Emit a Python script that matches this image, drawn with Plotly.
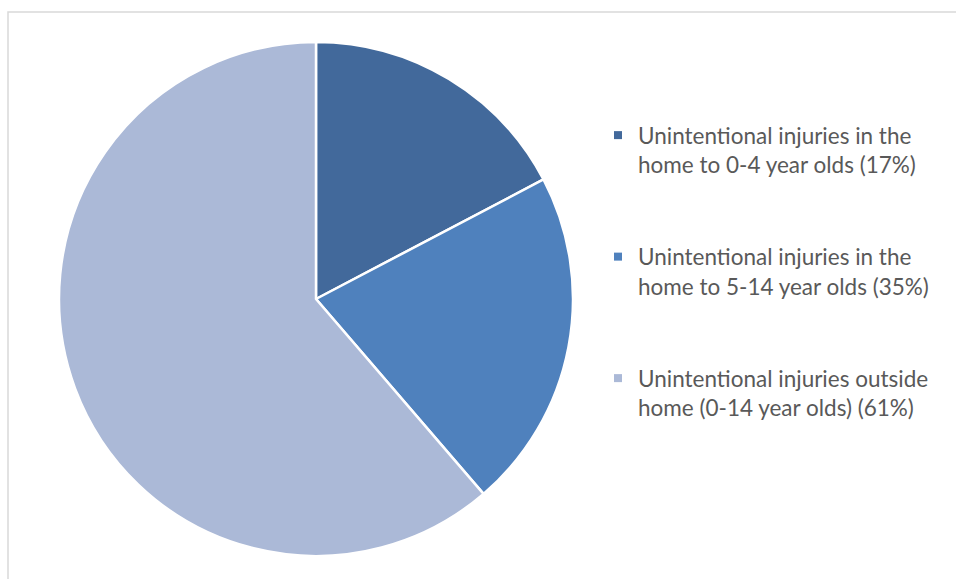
import plotly.graph_objects as go

labels = [
    "Unintentional injuries in the<br>home to 0-4 year olds (17%)",
    "Unintentional injuries in the<br>home to 5-14 year olds (35%)",
    "Unintentional injuries outside<br>home (0-14 year olds) (61%)",
]
values = [17.3, 21.4, 61.3]
colors = ["#42699B", "#4F81BD", "#ABB9D7"]

W, H = 956, 579
cx, cy, r = 316, 299, 257

fig = go.Figure()
fig.add_trace(go.Pie(
    labels=labels,
    values=values,
    sort=False,
    direction="clockwise",
    rotation=0,
    textinfo="none",
    showlegend=False,
    marker=dict(colors=colors, line=dict(color="white", width=2.5)),
    domain=dict(x=[(cx - r) / W, (cx + r) / W], y=[1 - (cy + r) / H, 1 - (cy - r) / H]),
    hovertemplate="%{label}<extra></extra>",
))

# legend entries (one per slice, same labels and colours)
for i, (lab, col) in enumerate(zip(labels, colors)):
    fig.add_trace(go.Scatter(
        x=[None], y=[None], mode="markers", name=lab,
        legendgroup=f"g{i}",
        marker=dict(symbol="square", size=8, color=col),
        hoverinfo="skip",
    ))

fig.update_layout(
    width=W, height=H,
    margin=dict(l=0, r=0, t=0, b=0),
    paper_bgcolor="white",
    plot_bgcolor="white",
    xaxis=dict(visible=False),
    yaxis=dict(visible=False),
    showlegend=True,
    legend=dict(
        x=598 / W, y=1 - 114 / H, xanchor="left", yanchor="top",
        valign="top",
        font=dict(family="Lato", size=22.5, color="#595959"),
        bgcolor="rgba(0,0,0,0)",
        traceorder="grouped",
        tracegroupgap=60,
        itemsizing="trace",
    ),
    shapes=[dict(
        type="rect", xref="paper", yref="paper",
        x0=8 / W, x1=1.02, y0=-0.02, y1=1 - 12 / H,
        line=dict(color="#D9D9D9", width=1.5),
        fillcolor="rgba(0,0,0,0)", layer="below",
    )],
)

fig.write_html("out.html")
